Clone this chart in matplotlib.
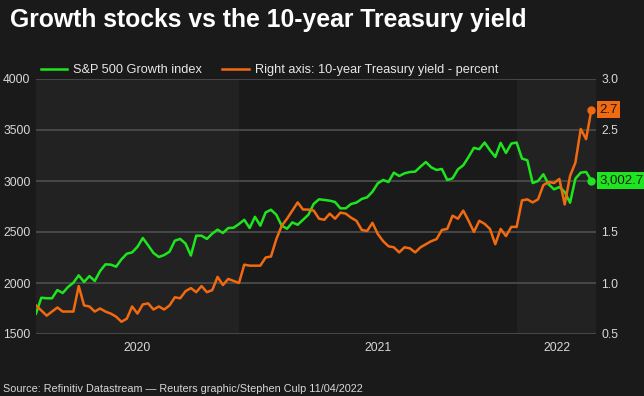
import matplotlib
matplotlib.use('Agg')
import matplotlib.pyplot as plt
import matplotlib.transforms as mtransforms
from matplotlib import font_manager
import pandas as pd

plt.rcParams['font.family'] = ['Liberation Sans', 'DejaVu Sans']

# weekly closes, 10 Apr 2020 .. 8 Apr 2022
dates = pd.date_range('2020-04-10', periods=105, freq='7D')

growth = [1700,
          1856, 1850, 1850, 1931, 1902, 1961, 2003, 2075, 2010, 2068, 2020, 2117, 2183,
          2180, 2160, 2232, 2287, 2300, 2355, 2441, 2369, 2294, 2255, 2274, 2307, 2415,
          2432, 2386, 2269, 2464, 2464, 2432, 2484, 2523, 2490, 2539, 2542, 2578, 2620,
          2539, 2649, 2562, 2692, 2718, 2669, 2562, 2532, 2594, 2571, 2620, 2669, 2776, 2821,
          2814, 2807, 2794, 2732, 2732, 2775, 2788, 2824, 2840, 2895, 2977, 3010, 2990,
          3082, 3049, 3075, 3088, 3092, 3141, 3186, 3134, 3108, 3118, 3010, 3026, 3114,
          3154, 3236, 3325, 3312, 3377, 3302, 3236, 3374, 3275, 3367, 3377, 3220, 3203,
          2980, 3000, 3066, 2967, 2918, 2941, 2892, 2787, 3023, 3082, 3089, 3002.7]

yield10 = [0.78,
           0.73, 0.68, 0.72, 0.76, 0.72, 0.72, 0.72, 0.97, 0.78, 0.77, 0.72, 0.75, 0.72,
           0.70, 0.67, 0.62, 0.65, 0.77, 0.70, 0.79, 0.80, 0.74, 0.77, 0.74, 0.78, 0.86,
           0.85, 0.92, 0.95, 0.91, 0.97, 0.91, 0.93, 1.06, 0.98, 1.04, 1.02, 1.00, 1.18,
           1.17, 1.17, 1.17, 1.25, 1.26, 1.43, 1.56, 1.63, 1.71, 1.79, 1.72, 1.72, 1.71, 1.63,
           1.62, 1.68, 1.63, 1.69, 1.68, 1.64, 1.61, 1.52, 1.51, 1.59, 1.48, 1.41, 1.36,
           1.35, 1.30, 1.35, 1.34, 1.30, 1.35, 1.38, 1.41, 1.43, 1.52, 1.53, 1.66, 1.63,
           1.71, 1.61, 1.50, 1.61, 1.58, 1.53, 1.38, 1.53, 1.46, 1.55, 1.55, 1.81, 1.82,
           1.79, 1.82, 1.96, 1.99, 1.98, 2.02, 1.77, 2.05, 2.18, 2.51, 2.41, 2.70]

left_ticks = [1500, 2000, 2500, 3000, 3500, 4000]
right_ticks = [0.5, 1.0, 1.5, 2.0, 2.5, 3.0]
years = ['2020', '2021', '2022']

BG = '#1a1a1a'
BAND = '#222222'
GREEN = '#1ee61e'
ORANGE = '#f26a10'
TXT = '#d8d8d8'

names = {f.name for f in font_manager.fontManager.ttflist}
narrow = 'Liberation Sans Narrow' if 'Liberation Sans Narrow' in names else 'Liberation Sans'

fig = plt.figure(figsize=(6.44, 3.96), dpi=100, facecolor=BG)
ax = fig.add_axes([36 / 644, 62 / 396, 560 / 644, 255 / 396])
ax.set_facecolor(BG)

x0 = dates[0]
x1 = dates[-1] + pd.Timedelta(days=6)
y2021 = pd.Timestamp('2021-01-01')
y2022 = pd.Timestamp('2022-01-01')
ax.axvspan(x0, y2021, color=BAND, zorder=0, lw=0)
ax.axvspan(y2022, x1, color=BAND, zorder=0, lw=0)

for v in left_ticks:
    ax.axhline(v, color='#4a4a4a', lw=1.3, zorder=1)

ax.plot(dates, growth, color=GREEN, lw=1.8, zorder=4, label='S&P 500 Growth index')
ax.plot(dates[-1], growth[-1], 'o', color=GREEN, ms=5, zorder=5)
ax.set_xlim(x0, x1)
ax.set_ylim(1500, 4000)
ax.set_yticks(left_ticks)
ax.set_yticklabels([str(v) for v in left_ticks])

ax2 = ax.twinx()
ax2.plot(dates, yield10, color=ORANGE, lw=1.8, zorder=4,
         label='Right axis: 10-year Treasury yield - percent')
ax2.plot(dates[-1], yield10[-1], 'o', color=ORANGE, ms=5, zorder=5)
ax2.set_ylim(0.5, 3.0)
ax2.set_yticks(right_ticks)
ax2.set_yticklabels(['%.1f' % v for v in right_ticks])

# year labels centred in each year band
mids = [x0 + (y2021 - x0) / 2, y2021 + (y2022 - y2021) / 2, y2022 + (x1 - y2022) / 2]
ax.set_xticks(mids)
ax.set_xticklabels(years)

for a in (ax, ax2):
    for s in a.spines.values():
        s.set_visible(False)
    a.tick_params(length=0, colors=TXT, labelsize=8.7)
ax.tick_params(axis='y', pad=4)
ax2.tick_params(axis='y', pad=4)
ax.tick_params(axis='x', pad=6)

# end-value flags (both on ax2 so they sit over the right tick labels)
tr = mtransforms.blended_transform_factory(ax2.transAxes, ax2.transData)
ax2.text(1.006, yield10[-1], '%.1f' % yield10[-1], transform=tr, va='center', ha='left',
         fontsize=9.5, color='#1a1a1a', clip_on=False,
         bbox=dict(boxstyle='square,pad=0.2', fc=ORANGE, ec='none'), zorder=6)
tr1 = mtransforms.blended_transform_factory(ax.transAxes, ax.transData)
ax2.text(1.006, growth[-1], '{:,.1f}'.format(growth[-1]), transform=tr1, va='center',
         ha='left', fontsize=9.5, color='#1a1a1a', clip_on=False,
         bbox=dict(boxstyle='square,pad=0.2', fc=GREEN, ec='none'), zorder=6)

h1, l1 = ax.get_legend_handles_labels()
h2, l2 = ax2.get_legend_handles_labels()
leg = ax.legend(h1 + h2, l1 + l2, loc='lower left', bbox_to_anchor=(-0.001, 0.99), ncol=2,
                frameon=False, fontsize=9.2, handlelength=2.1, handletextpad=0.45,
                columnspacing=1.6, borderaxespad=0)
for t in leg.get_texts():
    t.set_color('#e8e8e8')

fig.text(10 / 644, 1 - 20 / 396, 'Growth stocks vs the 10-year Treasury yield',
         color='white', fontsize=17.8, fontweight='bold', va='center', ha='left')
fig.text(3 / 644, 1 - 389 / 396,
         'Source: Refinitiv Datastream \u2014 Reuters graphic/Stephen Culp 11/04/2022',
         color=TXT, fontsize=7.8, family=narrow, va='center', ha='left')

fig.savefig('out.png', dpi=100, facecolor=BG)
